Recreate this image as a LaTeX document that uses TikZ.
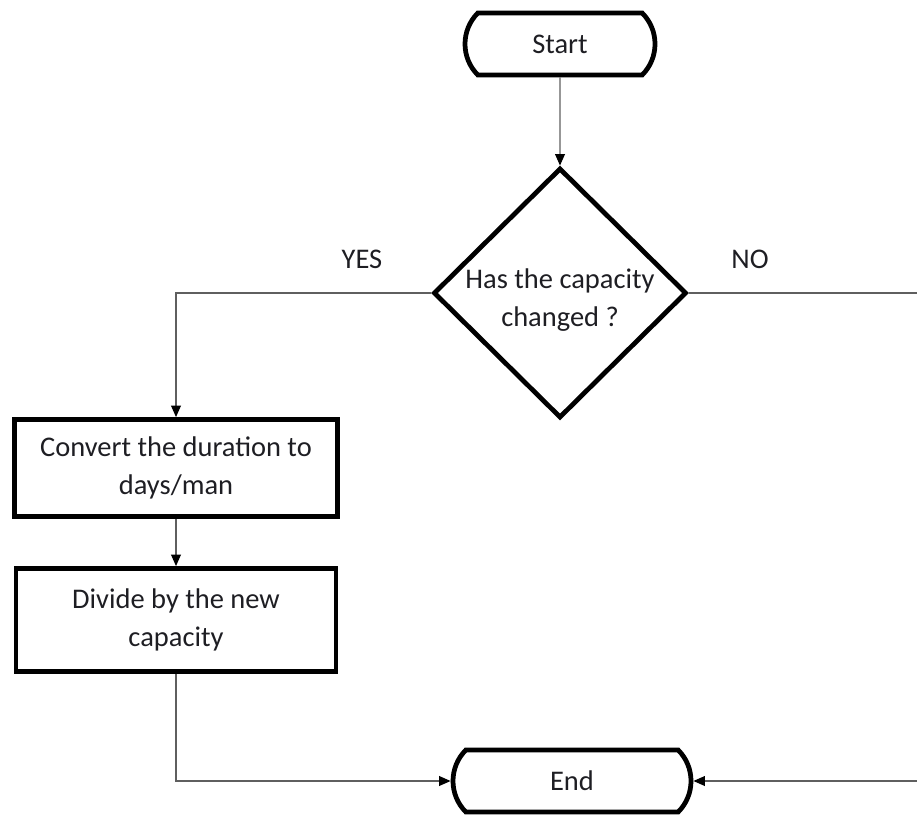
\documentclass[tikz,border=0pt]{standalone}
\usepackage{fontspec}
\setmainfont{Carlito}
\usetikzlibrary{shapes.geometric,shapes.misc,arrows.meta}

\definecolor{linegray}{RGB}{95,95,95}
\definecolor{textdark}{RGB}{30,30,35}

\tikzset{
    every node/.style={font=\fontsize{16.2}{21.3}\selectfont, text=textdark},
    terminal/.style={draw, rounded rectangle, rounded rectangle arc length=90,
        line width=2.7pt, minimum height=1.24cm, inner sep=0pt},
    decision/.style={draw, diamond, line width=2.7pt, minimum width=5.06cm,
        minimum height=5cm, inner sep=0pt},
    process/.style={draw, rectangle, line width=2.7pt, align=center, inner sep=0pt},
    flow/.style={line width=0.8pt, draw=linegray,
        -{Triangle[length=6.5pt, width=5.5pt, color=black]}}
}

\begin{document}
\begin{tikzpicture}
    \pgfmathsetmacro\cx{11.2};
    \pgfmathsetmacro\lx{3.52};

    \useasboundingbox (0, 0) rectangle (18.34, -16.32);
    \clip (0, 0) rectangle (18.34, -16.32);

    \node[terminal, minimum width=3.8cm] (start) at (\cx, -0.88) {Start};
    \node[decision] (changed) at (\cx, -5.86) {};
    \node[align=center] (question) at (\cx, -6.0) {Has the capacity\\changed ?};
    \node (yes) at (7.24, -5.18) {YES};
    \node (no) at (15.0, -5.18) {NO};
    \node[process, minimum width=6.46cm, minimum height=1.94cm] (convert) at (\lx, -9.36) {Convert the duration to\\days/man};
    \node[process, minimum width=6.4cm, minimum height=2.06cm] (divide) at (\lx, -12.4) {Divide by the new\\capacity};
    \node[terminal, minimum width=4.76cm] (end) at (11.44, -15.62) {End};

    \coordinate (offright) at (18.8, -5.86);

    \draw[flow] (start) -- (changed);
    \draw[flow] (changed.west) -| (convert.north);
    \draw[flow] (convert) -- (divide);
    \draw[flow] (divide.south) |- (end.west);
    \draw[flow] (changed.east) -- (offright) |- (end.east);
\end{tikzpicture}
\end{document}
